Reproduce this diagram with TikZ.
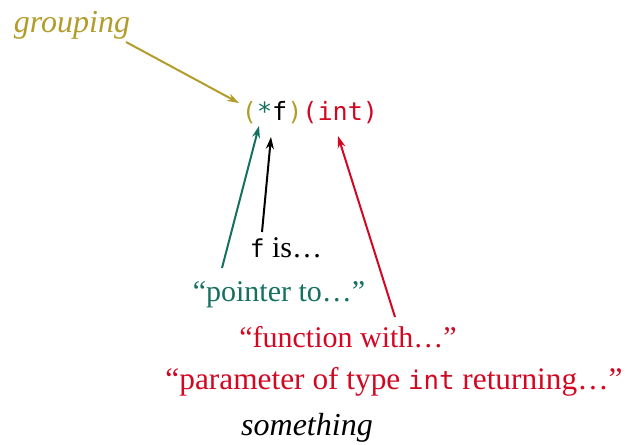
\documentclass[tikz,border=0pt]{standalone}
\usepackage{fontspec}
\setmainfont{Liberation Serif}
\setmonofont[Scale=0.82]{DejaVu Sans Mono}
\usetikzlibrary{arrows.meta}
\definecolor{gold}{RGB}{178,156,42}
\definecolor{tealc}{RGB}{22,112,96}
\definecolor{redc}{RGB}{210,8,35}
\tikzset{
  lbl/.style={inner sep=0pt, font=\fontsize{22.5}{25}\selectfont},
  itl/.style={inner sep=0pt, font=\fontsize{24}{26}\selectfont\itshape},
  arr/.style={line width=1.5pt, -{Stealth[length=9pt,width=6pt]}}
}
\begin{document}
\begin{tikzpicture}[x=0.75pt,y=-0.75pt]
\useasboundingbox (0,0) rectangle (628,445);
\node[itl, text=gold] (grp) at (72,25) {grouping};
\node[lbl, font=\fontsize{23}{25}\selectfont] (expr) at (310,113) {\ttfamily\textcolor{gold}{(}\textcolor{tealc}{*}f\textcolor{gold}{)}\textcolor{redc}{(int)}};
\coordinate (gtip) at (239,103);
\coordinate (ttip) at (259,126);
\coordinate (btip) at (271,137);
\coordinate (rtip) at (338,136);
\coordinate (gstart) at (126,42);
\coordinate (tstart) at (222,268);
\coordinate (bstart) at (262,232);
\coordinate (rstart) at (395,317);
\node[lbl] (fis) at (286,248) {\texttt{f} is\ldots};
\node[lbl, text=tealc] (ptr) at (279,295) {``pointer to\ldots''};
\node[lbl, text=redc] (fun) at (348,337) {``function with\ldots''};
\node[lbl, text=redc, font=\fontsize{23.5}{26}\selectfont] (par) at (394,382) {``parameter of type \texttt{int} returning\ldots''};
\node[itl] (sth) at (307,428) {something};
\draw[arr, gold] (gstart) -- (gtip);
\draw[arr, tealc] (tstart) -- (ttip);
\draw[arr, black] (bstart) -- (btip);
\draw[arr, redc] (rstart) -- (rtip);
\end{tikzpicture}
\end{document}
